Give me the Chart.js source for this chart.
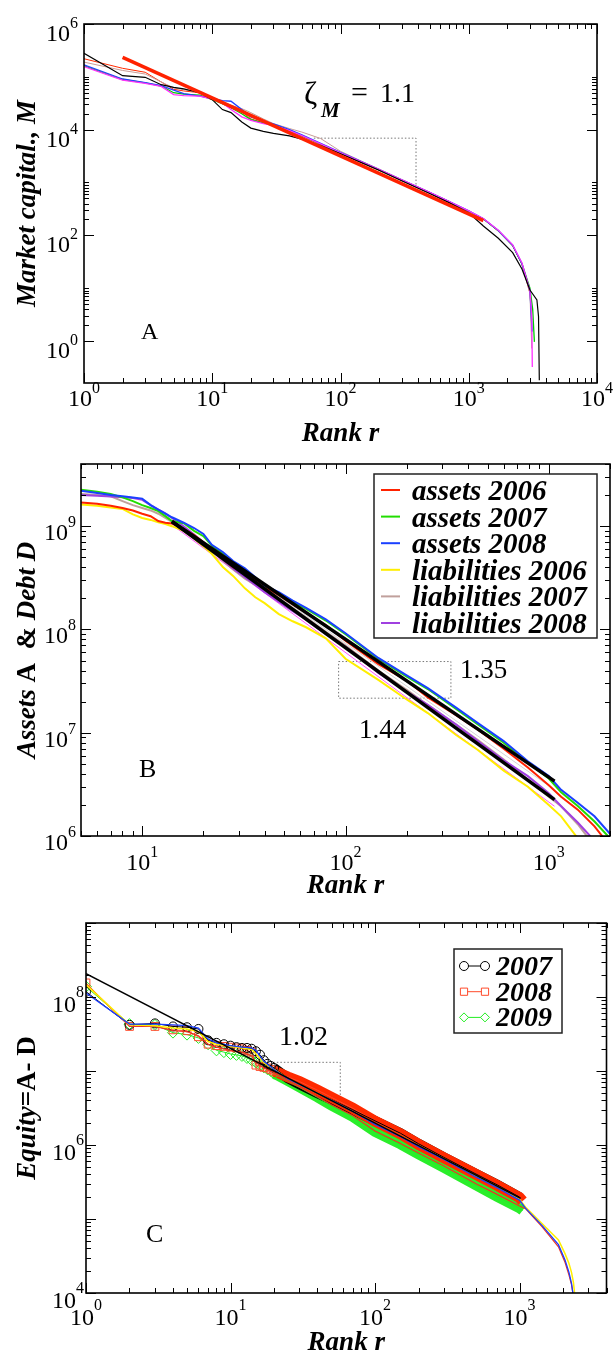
<!DOCTYPE html>
<html>
<head>
<meta charset="utf-8">
<title>Rank distributions</title>
<script src="https://cdn.jsdelivr.net/npm/chart.js@4.4.1/dist/chart.umd.min.js"></script>
<style>
  html, body { margin: 0; padding: 0; background: #fff; }
  #page { position: relative; width: 613px; height: 1355px; overflow: hidden; }
  #page canvas { position: absolute; left: 0; }
</style>
</head>
<body>
<div id="page">
  <canvas id="chartA" width="613" height="450" style="top:0px"></canvas>
  <canvas id="chartB" width="613" height="450" style="top:450px"></canvas>
  <canvas id="chartC" width="613" height="455" style="top:900px"></canvas>
</div>
<script>
// ---- panel A: market capital vs rank ----
const rankA = [1, 2, 3, 4, 5, 6, 8, 10, 12, 14, 17, 20, 25, 30, 40, 50, 70, 100, 150, 200, 300, 500, 700, 1000, 1300, 1700, 2200, 2600, 3000];
const capBlack   = [2.8e5, 1.05e5, 9.8e4, 7.1e4, 6.3e4, 5.9e4, 5.0e4, 3.7e4, 2.4e4, 2.1e4, 1.4e4, 1.07e4, 9.3e3, 8.5e3, 7.6e3, 6.6e3, 5.0e3, 3.5e3, 2.3e3, 1.7e3, 1.08e3, 610, 415, 268, 150, 88, 47, 23, 9.2];
const capRed     = [2.2e5, 1.45e5, 1.22e5, 8.0e4, 5.8e4, 5.4e4, 5.0e4, 3.9e4, 3.1e4, 2.6e4, 2.2e4, 1.6e4, 1.35e4, 1.2e4, 9.5e3, 7.6e3, 5.3e3, 3.6e3, 2.35e3, 1.72e3, 1.1e3, 630, 432, 284, 202, 120, 63, 28, 8];
const capBrown   = [1.9e5, 1.32e5, 1.13e5, 8.0e4, 6.2e4, 5.7e4, 5.2e4, 4.1e4, 3.4e4, 2.9e4, 2.5e4, 2.1e4, 1.6e4, 1.3e4, 1.05e4, 9.0e3, 6.8e3, 3.9e3, 2.45e3, 1.8e3, 1.14e3, 650, 440, 288, 205, 122, 64, 28, 8];
const capGreen   = [1.62e5, 8.9e4, 7.7e4, 6.7e4, 5.0e4, 4.7e4, 4.5e4, 3.7e4, 3.1e4, 2.6e4, 2.0e4, 1.55e4, 1.35e4, 1.2e4, 9.5e3, 7.6e3, 5.3e3, 3.6e3, 2.35e3, 1.72e3, 1.1e3, 630, 435, 285, 205, 122, 64, 29, 10];
const capBlue    = [1.68e5, 9.1e4, 7.8e4, 6.8e4, 5.6e4, 4.8e4, 4.3e4, 3.9e4, 3.55e4, 3.45e4, 2.4e4, 1.75e4, 1.45e4, 1.28e4, 1.0e4, 8.0e3, 5.5e3, 3.7e3, 2.4e3, 1.75e3, 1.12e3, 640, 440, 290, 206, 123, 65, 29, 9];
const capMagenta = [1.56e5, 8.7e4, 7.5e4, 6.6e4, 4.6e4, 4.4e4, 4.3e4, 3.8e4, 3.2e4, 2.4e4, 1.75e4, 1.5e4, 1.3e4, 1.2e4, 9.6e3, 7.7e3, 5.4e3, 3.65e3, 2.38e3, 1.75e3, 1.12e3, 640, 440, 290, 208, 125, 66, 30, 9];
// where each curve drops off at the end
const tailRankBlack = [3400, 3500, 3550],  tailCapBlack = [6, 2.9, 0.18];
const tailRankRed = [3100],                tailCapRed = [2.5];
const tailRankBrown = [3100],              tailCapBrown = [0.72];
const tailRankGreen = [3150, 3250],        tailCapGreen = [4, 0.96];
const tailRankBlue = [3120],               tailCapBlue = [1.5];
const tailRankMagenta = [3100, 3130],      tailCapMagenta = [3, 0.32];
// power-law fit, slope 1.1, and its guide triangle
const fitRankA = [2, 1300],      fitCapA = [2.34e5, 190];
const guideRankA = [62, 388, 388], guideCapA = [6.9e3, 6.9e3, 880];

// ---- panel B: assets and debt vs rank ----
const rankB = [5, 6, 7, 8, 9, 10, 11, 12, 13, 14, 16, 18, 20, 22, 25, 28, 32, 36, 40, 47, 55, 64, 80, 100, 145, 200, 254, 350, 448, 600, 789, 1000, 1150, 1388, 1678, 2000];
const assets2006 = [1.7e9, 1.65e9, 1.58e9, 1.5e9, 1.42e9, 1.32e9, 1.25e9, 1.12e9, 1.08e9, 1.06e9, 9.4e8, 8.2e8, 7.0e8, 6.0e8, 4.8e8, 4.0e8, 3.5e8, 3.0e8, 2.6e8, 2.15e8, 1.75e8, 1.45e8, 1.1e8, 7.8e7, 4.6e7, 3.2e7, 2.2e7, 1.48e7, 1.07e7, 7.0e6, 4.6e6, 3.1e6, 2.4e6, 1.8e6, 1.24e6, 8.0e5];
const assets2007 = [2.25e9, 2.15e9, 2.05e9, 1.9e9, 1.75e9, 1.6e9, 1.5e9, 1.4e9, 1.25e9, 1.12e9, 1.07e9, 9.0e8, 8.0e8, 6.5e8, 5.4e8, 4.5e8, 3.8e8, 3.15e8, 2.65e8, 2.25e8, 1.85e8, 1.58e8, 1.22e8, 9.0e7, 5.2e7, 3.5e7, 2.65e7, 1.7e7, 1.2e7, 8.0e6, 5.1e6, 3.6e6, 2.65e6, 1.95e6, 1.38e6, 9.5e5];
const assets2008 = [2.2e9, 2.1e9, 2.0e9, 1.95e9, 1.9e9, 1.85e9, 1.6e9, 1.45e9, 1.32e9, 1.22e9, 1.08e9, 9.6e8, 8.4e8, 6.6e8, 5.6e8, 4.6e8, 3.9e8, 3.2e8, 2.65e8, 2.3e8, 1.9e8, 1.62e8, 1.25e8, 9.2e7, 5.3e7, 3.6e7, 2.7e7, 1.75e7, 1.24e7, 8.3e6, 5.3e6, 3.8e6, 2.8e6, 2.1e6, 1.55e6, 1.05e6];
const liab2006   = [1.62e9, 1.58e9, 1.52e9, 1.47e9, 1.3e9, 1.2e9, 1.15e9, 1.09e9, 1.05e9, 1.0e9, 9.0e8, 7.6e8, 6.4e8, 5.4e8, 4.0e8, 3.3e8, 2.5e8, 2.05e8, 1.8e8, 1.41e8, 1.2e8, 1.05e8, 8.2e7, 5.2e7, 3.25e7, 2.1e7, 1.55e7, 9.5e6, 6.8e6, 4.3e6, 3.0e6, 2.0e6, 1.55e6, 9.5e5, null, null];
const liab2007   = [2.05e9, 2.0e9, 1.95e9, 1.75e9, 1.6e9, 1.5e9, 1.42e9, 1.32e9, 1.2e9, 1.1e9, 9.5e8, 8.0e8, 6.8e8, 5.8e8, 4.6e8, 3.8e8, 3.1e8, 2.7e8, 2.4e8, 1.9e8, 1.6e8, 1.3e8, 9.5e7, 7.0e7, 4.0e7, 2.6e7, 1.85e7, 1.2e7, 8.5e6, 5.5e6, 3.5e6, 2.4e6, 1.94e6, 1.3e6, 8.0e5, null];
const liab2008   = [2.0e9, 1.97e9, 1.94e9, 1.91e9, 1.87e9, 1.8e9, 1.6e9, 1.45e9, 1.33e9, 1.2e9, 1.0e9, 8.3e8, 7.0e8, 5.8e8, 4.7e8, 3.9e8, 3.2e8, 2.7e8, 2.3e8, 1.85e8, 1.5e8, 1.25e8, 9.0e7, 6.8e7, 3.8e7, 2.5e7, 1.86e7, 1.2e7, 8.3e6, 5.4e6, 3.8e6, 2.6e6, 1.94e6, 1.35e6, 9.0e5, null];
const legendNamesB = ['assets 2006', 'assets 2007', 'assets 2008', 'liabilities 2006', 'liabilities 2007', 'liabilities 2008'];
// fits: assets slope 1.35, liabilities slope 1.44
const fitRankB = [14, 1067];
const fitAssetsB = [1.11e9, 3.4e6];
const fitLiabB = [1.11e9, 2.25e6];
const greyRankB = [14, 1067],    greyValB = [1.11e9, 2.8e6];
const pinkRankB = [14.6, 1067],  pinkValB = [9.7e8, 1.94e6];
const boxRankB = [92.5, 330, 330, 92.5, 92.5];
const boxValB  = [4.89e7, 4.89e7, 2.16e7, 2.16e7, 4.89e7];

// ---- panel C: equity vs rank ----
const rankC = [1, 2, 3, 4, 5, 6, 7, 8, 9, 10, 11, 12, 13, 14, 15, 16, 17, 18, 19, 20, 25, 30, 40, 50, 70, 100, 150, 200, 300, 500, 700, 1000, 1050];
const equity2007 = [1.18e8, 4.2e7, 4.4e7, 4.0e7, 3.9e7, 3.7e7, 2.6e7, 2.4e7, 2.3e7, 2.2e7, 2.1e7, 2.05e7, 2.05e7, 2.0e7, 1.85e7, 1.66e7, 1.4e7, 1.25e7, 1.17e7, 1.1e7, 8.0e6, 6.6e6, 5.0e6, 4.1e6, 3.0e6, 2.12e6, 1.44e6, 1.04e6, 6.8e5, 4.05e5, 2.9e5, 1.98e5, null];
const equity2008 = [1.55e8, 4.0e7, 4.0e7, 3.6e7, 3.5e7, 2.9e7, 2.3e7, 2.2e7, 2.15e7, 2.1e7, 2.05e7, 2.0e7, 1.9e7, 1.8e7, 1.2e7, 1.15e7, 1.12e7, 1.1e7, 1.05e7, 1.0e7, 8.3e6, 7.2e6, 5.5e6, 4.4e6, 3.15e6, 2.1e6, 1.42e6, 1.02e6, 6.7e5, 4.0e5, 2.85e5, 1.95e5, 1.75e5];
const equity2009 = [1.38e8, 4.3e7, 4.2e7, 3.3e7, 3.1e7, 2.8e7, 2.3e7, 1.9e7, 1.8e7, 1.7e7, 1.65e7, 1.6e7, 1.5e7, 1.4e7, 1.3e7, 1.2e7, 1.12e7, 1.06e7, 1.0e7, 9.2e6, 7.3e6, 6.0e6, 4.4e6, 3.4e6, 2.4e6, 1.5e6, 1.02e6, 7.5e5, 4.9e5, 2.85e5, 2.0e5, 1.4e5, 1.3e5];
const legendNamesC = ['2007', '2008', '2009'];
const rankLineC = [1, 2, 3, 4, 5, 6, 7, 8, 10, 12, 14, 15, 17, 20, 25, 30, 40, 50, 70, 100, 150, 200, 300, 500, 700, 1000, 1100, 1430, 1860, 2065, 2200, 2290, 2360, 2420];
const lineBlueC   = [1.13e8, 4.3e7, 4.3e7, 4.2e7, 4.1e7, 3.8e7, 2.7e7, 2.4e7, 2.2e7, 2.1e7, 2.05e7, 1.9e7, 1.35e7, 1.05e7, 7.8e6, 6.6e6, 5.0e6, 4.0e6, 2.85e6, 1.9e6, 1.3e6, 9.5e5, 6.4e5, 3.7e5, 2.65e5, 1.8e5, 1.4e5, 8.2e4, 4.5e4, 2.8e4, 1.9e4, 1.35e4, 9.0e3, null];
const lineYellowC = [1.47e8, 4.2e7, 4.1e7, 3.8e7, 3.7e7, 3.4e7, 2.5e7, 2.3e7, 2.15e7, 2.05e7, 1.95e7, 1.7e7, 1.3e7, 1.05e7, 7.9e6, 6.6e6, 5.0e6, 4.0e6, 2.85e6, 1.95e6, 1.32e6, 9.8e5, 6.5e5, 3.8e5, 2.7e5, 1.85e5, 1.45e5, 8.7e4, 5.2e4, 3.4e4, 2.5e4, 1.9e4, 1.4e4, 9.0e3];
const lineRedC    = [1.5e8, 4.0e7, 4.0e7, 3.5e7, 3.4e7, 3.0e7, 2.3e7, 2.1e7, 1.9e7, 1.8e7, 1.6e7, 1.3e7, 1.1e7, 9.5e6, 7.4e6, 6.1e6, 4.5e6, 3.5e6, 2.5e6, 1.55e6, 1.05e6, 7.8e5, 5.2e5, 3.0e5, 2.15e5, 1.5e5, 1.38e5, 7.9e4, 4.2e4, 2.6e4, 1.75e4, 1.3e4, 9.0e3, null];
const fitRankC = [1, 1020],        fitEqC = [2.07e8, 1.9e5];
const guideRankC = [19.8, 57.5, 57.5], guideEqC = [1.31e7, 1.31e7, 4.4e6];

// tick marks
const tickXA = [1, 10, 100, 1000, 10000], tickYA = [1, 100, 1e4, 1e6];
const tickXB = [10, 100, 1000],           tickYB = [1e6, 1e7, 1e8, 1e9];
const tickXC = [1, 10, 100, 1000],        tickYC = [1e4, 1e5, 1e6, 1e7, 1e8, 1e9];
const labelYC = [1e4, 1e6, 1e8];

const SERIF = "'Liberation Serif', 'Times New Roman', serif";
const BI = 'bold italic 27px ' + SERIF;

function pts(xs, ys) {
    return xs.map((x, i) => ({x: x, y: ys[i]}));
}

function line(label, xs, ys, color, width, extra) {
    return Object.assign({
        label: label,
        data: pts(xs, ys),
        borderColor: color,
        backgroundColor: 'transparent',
        borderWidth: width,
        pointRadius: 0,
        fill: false,
        tension: 0,
        clip: 0
    }, extra || {});
}

function options(pad, xmin, xmax, ymin, ymax) {
    return {
        responsive: false,
        animation: false,
        devicePixelRatio: 1,
        events: [],
        layout: {padding: pad},
        plugins: {legend: {display: false}, tooltip: {enabled: false}},
        scales: {
            x: {type: 'logarithmic', min: xmin, max: xmax, display: false},
            y: {type: 'logarithmic', min: ymin, max: ymax, display: false}
        }
    };
}

function minors(decades, mult) {
    return decades.flatMap(d => mult.map(k => d * k));
}

function pow10(ctx, x, y, v, size, rise, align) {
    const e = String(Math.round(Math.log10(v)));
    const es = Math.round(size * 0.68);
    ctx.font = size + 'px ' + SERIF;
    const w1 = ctx.measureText('10').width;
    ctx.font = es + 'px ' + SERIF;
    const w2 = ctx.measureText(e).width;
    const x0 = align === 'center' ? x - (w1 + w2) / 2 : x - w1 - w2;
    ctx.textAlign = 'left';
    ctx.textBaseline = 'alphabetic';
    ctx.font = size + 'px ' + SERIF;
    ctx.fillText('10', x0, y);
    ctx.font = es + 'px ' + SERIF;
    ctx.fillText(e, x0 + w1, y - rise);
}

function drawRuns(ctx, runs, x, y, align, rotate) {
    ctx.save();
    ctx.translate(x, y);
    if (rotate) ctx.rotate(rotate);
    let total = 0;
    runs.forEach(r => { ctx.font = r.font; r.w = ctx.measureText(r.text).width; total += r.w; });
    let cx = align === 'center' ? -total / 2 : 0;
    ctx.textAlign = 'left';
    ctx.textBaseline = 'alphabetic';
    ctx.fillStyle = '#000';
    runs.forEach(r => { ctx.font = r.font; ctx.fillText(r.text, cx, 0); cx += r.w; });
    ctx.restore();
}

function marker(ctx, style, x, y, r, color) {
    ctx.beginPath();
    if (style === 'circle') {
        ctx.arc(x, y, r, 0, Math.PI * 2);
    } else if (style === 'rect') {
        ctx.rect(x - r * 0.8, y - r * 0.8, r * 1.6, r * 1.6);
    } else {
        ctx.moveTo(x, y - r); ctx.lineTo(x + r, y); ctx.lineTo(x, y + r); ctx.lineTo(x - r, y); ctx.closePath();
    }
    ctx.fillStyle = '#fff';
    ctx.fill();
    ctx.strokeStyle = color;
    ctx.lineWidth = 1;
    ctx.stroke();
}

// frame, inward ticks on all four sides, tick labels, titles and notes
function decor(cfg) {
    return {
        id: 'decor',
        afterDraw(chart) {
            const ctx = chart.ctx, a = chart.chartArea;
            const sx = chart.scales.x, sy = chart.scales.y;
            const inX = v => v >= sx.min * 0.999 && v <= sx.max * 1.001;
            const inY = v => v >= sy.min * 0.999 && v <= sy.max * 1.001;
            ctx.save();
            ctx.strokeStyle = '#000';
            ctx.lineWidth = 1;
            ctx.beginPath();
            const tx = (v, len) => {
                const p = Math.round(sx.getPixelForValue(v)) + 0.5;
                ctx.moveTo(p, a.bottom); ctx.lineTo(p, a.bottom - len);
                ctx.moveTo(p, a.top); ctx.lineTo(p, a.top + len);
            };
            const ty = (v, len) => {
                const p = Math.round(sy.getPixelForValue(v)) + 0.5;
                ctx.moveTo(a.left, p); ctx.lineTo(a.left + len, p);
                ctx.moveTo(a.right, p); ctx.lineTo(a.right - len, p);
            };
            cfg.xMajor.filter(inX).forEach(v => tx(v, 10));
            minors(cfg.xDecades, cfg.xMult).filter(inX).forEach(v => tx(v, 5));
            cfg.yMajor.filter(inY).forEach(v => ty(v, 10));
            minors(cfg.yDecades, cfg.yMult).filter(inY).forEach(v => ty(v, 5));
            ctx.stroke();
            ctx.lineWidth = 1.6;
            ctx.strokeRect(a.left, a.top, a.right - a.left, a.bottom - a.top);

            ctx.fillStyle = '#000';
            cfg.xLabels.forEach(v => pow10(ctx, sx.getPixelForValue(v), a.bottom + cfg.xLabelDy, v, cfg.tickSize, cfg.rise, 'center'));
            cfg.yLabels.forEach(v => pow10(ctx, a.left - cfg.yLabelGap, sy.getPixelForValue(v) + cfg.yLabelDy, v, cfg.tickSize, cfg.rise, 'right'));

            drawRuns(ctx, cfg.xTitle, (a.left + a.right) / 2, cfg.xTitleY, 'center', 0);
            drawRuns(ctx, cfg.yTitle, cfg.yTitleX, (a.top + a.bottom) / 2, 'center', -Math.PI / 2);
            cfg.texts.forEach(t => drawRuns(ctx, t.runs, t.x, t.y, 'left', 0));
            if (cfg.legend) cfg.legend(ctx);
            ctx.restore();
        }
    };
}

const mult2to9 = [2, 3, 4, 5, 6, 7, 8, 9];

// ---------------- panel A ----------------
new Chart(document.getElementById('chartA'), {
    type: 'line',
    data: {
        datasets: [
            line('fit 1.1', fitRankA, fitCapA, '#ff2200', 3.5),
            line('black', rankA.concat(tailRankBlack), capBlack.concat(tailCapBlack), '#000000', 1.2),
            line('magenta', rankA.concat(tailRankMagenta), capMagenta.concat(tailCapMagenta), '#ff30ff', 1.3),
            line('blue', rankA.concat(tailRankBlue), capBlue.concat(tailCapBlue), '#2040ff', 1.3),
            line('green', rankA.concat(tailRankGreen), capGreen.concat(tailCapGreen), '#00cc00', 1.3),
            line('brown', rankA.concat(tailRankBrown), capBrown.concat(tailCapBrown), '#c89c96', 1),
            line('red', rankA.concat(tailRankRed), capRed.concat(tailCapRed), '#ff2a00', 1),
            line('guide', guideRankA, guideCapA, '#777777', 1, {borderDash: [1.5, 2]})
        ]
    },
    options: options({left: 84, right: 16, top: 24, bottom: 67}, 1, 1e4, 0.16, 1e6),
    plugins: [decor({
        xMajor: tickXA, xDecades: [1, 10, 100, 1000], xMult: mult2to9,
        yMajor: tickYA, yDecades: [1, 100, 1e4], yMult: [2, 3, 4, 5, 6, 7, 8, 9, 10],
        xLabels: tickXA, yLabels: tickYA,
        tickSize: 24, rise: 13, xLabelDy: 23, yLabelGap: 6, yLabelDy: 17,
        xTitle: [{text: 'Rank r', font: BI}], xTitleY: 441,
        yTitle: [{text: 'Market capital., M', font: BI}], yTitleX: 35,
        texts: [
            {runs: [{text: 'ζ', font: '32px ' + SERIF}], x: 304, y: 104},
            {runs: [{text: 'M', font: 'bold italic 21px ' + SERIF}], x: 321, y: 117},
            {runs: [{text: '=', font: '30px ' + SERIF}], x: 351, y: 102},
            {runs: [{text: '1.1', font: '28px ' + SERIF}], x: 380, y: 102},
            {runs: [{text: 'A', font: '24px ' + SERIF}], x: 141, y: 339}
        ]
    })]
});

// ---------------- panel B ----------------
const colorsB = ['#ff2200', '#22dd00', '#1a40ff', '#ffee00', '#c0a09c', '#a040e0'];
new Chart(document.getElementById('chartB'), {
    type: 'line',
    data: {
        datasets: [
            line('fit assets 1.35', fitRankB, fitAssetsB, '#000000', 3.5),
            line('fit liabilities 1.44', fitRankB, fitLiabB, '#000000', 3.5),
            line(legendNamesB[2], rankB, assets2008, colorsB[2], 2),
            line(legendNamesB[1], rankB, assets2007, colorsB[1], 2),
            line(legendNamesB[0], rankB, assets2006, colorsB[0], 2),
            line(legendNamesB[5], rankB, liab2008, colorsB[5], 2),
            line(legendNamesB[4], rankB, liab2007, colorsB[4], 2),
            line(legendNamesB[3], rankB, liab2006, colorsB[3], 2),
            line('pink', pinkRankB, pinkValB, '#ff50ff', 1),
            line('grey', greyRankB, greyValB, '#d4d4d4', 1),
            line('box', boxRankB, boxValB, '#777777', 1, {borderDash: [1.5, 2]})
        ]
    },
    options: options({left: 81, right: 3, top: 14, bottom: 64}, 5, 2000, 1e6, 4e9),
    plugins: [decor({
        xMajor: tickXB, xDecades: [1, 10, 100, 1000], xMult: mult2to9,
        yMajor: tickYB, yDecades: [1e6, 1e7, 1e8, 1e9], yMult: mult2to9,
        xLabels: tickXB, yLabels: tickYB,
        tickSize: 24, rise: 13, xLabelDy: 34, yLabelGap: 5, yLabelDy: 14,
        xTitle: [{text: 'Rank r', font: BI}], xTitleY: 443,
        yTitle: [
            {text: 'Assets ', font: BI},
            {text: 'A  & ', font: 'bold 27px ' + SERIF},
            {text: 'Debt D', font: BI}
        ], yTitleX: 35,
        texts: [
            {runs: [{text: '1.35', font: '27px ' + SERIF}], x: 460, y: 228},
            {runs: [{text: '1.44', font: '27px ' + SERIF}], x: 359, y: 288},
            {runs: [{text: 'B', font: '26px ' + SERIF}], x: 139, y: 327}
        ],
        legend: ctx => {
            ctx.fillStyle = '#fff';
            ctx.fillRect(374, 24, 223, 164);
            ctx.strokeStyle = '#222';
            ctx.lineWidth = 1.5;
            ctx.strokeRect(374, 24, 223, 164);
            legendNamesB.forEach((name, i) => {
                const y = 40 + i * 26.6;
                ctx.strokeStyle = colorsB[i];
                ctx.lineWidth = 2;
                ctx.beginPath(); ctx.moveTo(381, y); ctx.lineTo(400, y); ctx.stroke();
                drawRuns(ctx, [{text: name, font: 'bold italic 29px ' + SERIF}], 412, y + 10, 'left', 0);
            });
        }
    })]
});

// ---------------- panel C ----------------
const colorsC = ['#000000', '#ff4a2a', '#22ee22'];
const stylesC = ['circle', 'rect', 'rectRot'];
// single markers up to rank 20; beyond that they merge into a solid band
function markers(label, ys, i, radius) {
    return line(label, rankC, ys, colorsC[i], 1, {
        pointStyle: stylesC[i], pointRadius: rankC.map(r => r <= 20 ? radius : 0), pointBorderWidth: 1,
        pointBorderColor: colorsC[i], pointBackgroundColor: 'transparent'
    });
}
new Chart(document.getElementById('chartC'), {
    type: 'line',
    data: {
        datasets: [
            line('fit 1.02', fitRankC, fitEqC, '#000000', 1.6),
            line('blue', rankLineC, lineBlueC, '#1a3cff', 1.3),
            line('yellow', rankLineC, lineYellowC, '#ffee00', 1.5),
            line('red', rankLineC, lineRedC, '#ee3322', 1.2),
            markers(legendNamesC[0], equity2007, 0, 4.5),
            markers(legendNamesC[1], equity2008, 1, 5.5),
            markers(legendNamesC[2], equity2009, 2, 5.5),
            line('2008 dense', rankC.slice(19), equity2008.slice(19), '#ff2a00', 11),
            line('2007 dense', rankC.slice(19), equity2007.slice(19), '#000000', 10),
            line('2009 dense', rankC.slice(19), equity2009.slice(19), '#2aee2a', 10),
            line('guide', guideRankC, guideEqC, '#777777', 1, {borderDash: [1.5, 2]})
        ]
    },
    options: options({left: 86, right: 2, top: 23, bottom: 62}, 1, 4000, 1e4, 1e9),
    plugins: [decor({
        xMajor: tickXC, xDecades: [1, 10, 100, 1000], xMult: mult2to9,
        yMajor: tickYC, yDecades: [1e4, 1e5, 1e6, 1e7, 1e8], yMult: mult2to9,
        xLabels: tickXC, yLabels: labelYC,
        tickSize: 24, rise: 15, xLabelDy: 32, yLabelGap: 2, yLabelDy: 15,
        xTitle: [{text: 'Rank r', font: BI}], xTitleY: 450,
        yTitle: [
            {text: 'Equity', font: BI},
            {text: '=A- D', font: 'bold 27px ' + SERIF}
        ], yTitleX: 35,
        texts: [
            {runs: [{text: '1.02', font: '28px ' + SERIF}], x: 279, y: 145},
            {runs: [{text: 'C', font: '26px ' + SERIF}], x: 146, y: 342}
        ],
        legend: ctx => {
            ctx.fillStyle = '#fff';
            ctx.fillRect(454, 49, 108, 84);
            ctx.strokeStyle = '#222';
            ctx.lineWidth = 1.5;
            ctx.strokeRect(454, 49, 108, 84);
            legendNamesC.forEach((name, i) => {
                const y = 66 + i * 25.7;
                ctx.strokeStyle = colorsC[i];
                ctx.lineWidth = 1;
                ctx.beginPath(); ctx.moveTo(464, y); ctx.lineTo(485, y); ctx.stroke();
                marker(ctx, stylesC[i], 464, y, 4.5, colorsC[i]);
                marker(ctx, stylesC[i], 485, y, 4.5, colorsC[i]);
                drawRuns(ctx, [{text: name, font: 'bold italic 28px ' + SERIF}], 496, y + 9, 'left', 0);
            });
        }
    })]
});
</script>
</body>
</html>
